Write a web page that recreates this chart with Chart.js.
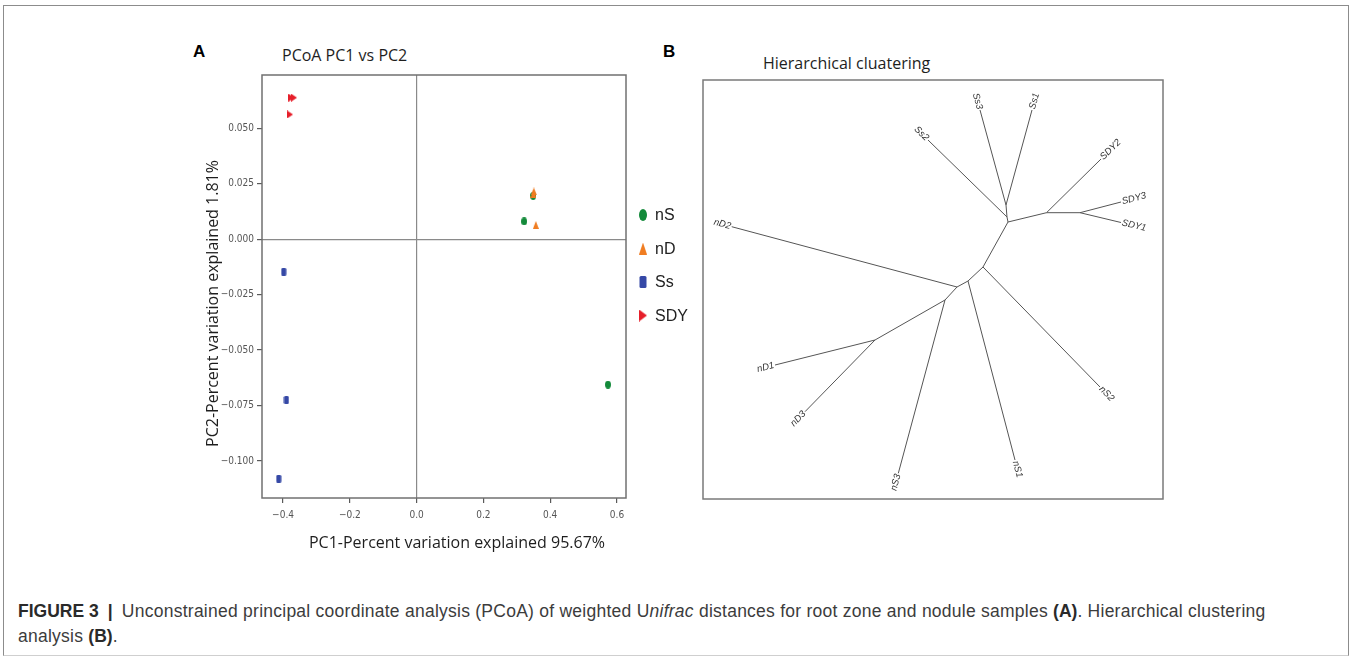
<!DOCTYPE html>
<html>
<head>
<meta charset="utf-8">
<title>Figure 3</title>
<script src="https://cdn.jsdelivr.net/npm/chart.js@4.4.1/dist/chart.umd.min.js"></script>
<style>
  html, body { margin: 0; padding: 0; background: #fff; }
  #page { position: relative; width: 1351px; height: 656px; overflow: hidden; }
  #frame { position: absolute; left: 3px; top: 5px; width: 1346px; height: 651px; box-sizing: border-box;
           border: 1px solid #8c8c8c; border-bottom-color: #cfcfcf; }
  .letter { position: absolute; font: bold 17px 'Liberation Sans', Arial, sans-serif; color: #000; line-height: 20px; }
  .ptitle { position: absolute; font: 16px 'Open Sans', sans-serif; color: #1e1e1e; line-height: 20px; white-space: nowrap; }
  #boxA { position: absolute; left: 180px; top: 60px; width: 540px; height: 510px; }
  #boxB { position: absolute; left: 690px; top: 70px; width: 480px; height: 440px; }
  #caption { position: absolute; left: 18px; top: 599px; width: 1320px; font: 17.5px 'Liberation Sans', Arial, sans-serif;
             letter-spacing: 0.25px; line-height: 25px; color: #3c3c3c; white-space: nowrap; }
  #caption b { color: #2a2a2a; letter-spacing: 0; }
  #caption .bar { margin: 0 4px; }
</style>
</head>
<body>
<div id="page">
  <div id="frame"></div>
  <div class="letter" style="left:193px; top:42px;">A</div>
  <div class="ptitle" style="left:282px; top:45px;">PCoA PC1 vs PC2</div>
  <div class="letter" style="left:663px; top:42px;">B</div>
  <div class="ptitle" style="left:763px; top:53px;">Hierarchical cluatering</div>
  <div id="boxA"><canvas id="pcoaChart"></canvas></div>
  <div id="boxB"><canvas id="treeChart"></canvas></div>
  <div id="caption"><b>FIGURE 3</b> <b class="bar">|</b> Unconstrained principal coordinate analysis (PCoA) of weighted U<i>nifrac</i> distances for root zone and nodule samples <b>(A)</b>. Hierarchical clustering<br>analysis <b>(B)</b>.</div>
</div>

<script>
// --- Panel A: PCoA scores, one pair of arrays per group ---
const groups = ['nS', 'nD', 'Ss', 'SDY'];
const nS_pc1 = [0.349, 0.322, 0.573];
const nS_pc2 = [0.0195, 0.0080, -0.0656];
const nD_pc1 = [0.351, 0.350, 0.357];
const nD_pc2 = [0.0215, 0.0205, 0.0064];
const Ss_pc1 = [-0.398, -0.390, -0.413];
const Ss_pc2 = [-0.0147, -0.0725, -0.1080];
const SDY_pc1 = [-0.375, -0.367, -0.379];
const SDY_pc2 = [0.0638, 0.0638, 0.0562];

const pc1Ticks = [-0.4, -0.2, 0.0, 0.2, 0.4, 0.6];
const pc2Ticks = [-0.100, -0.075, -0.050, -0.025, 0.000, 0.025, 0.050];

// --- Panel B: unrooted tree layout (node names, layout coordinates, edges) ---
const treeNodes = ['Ss3', 'Ss1', 'Ss2', 'SDY2', 'SDY3', 'SDY1', 'nS2', 'nS1', 'nD2', 'nS3', 'nD1', 'nD3',
                   'i1', 'i2', 'i3', 'i4', 'i5', 'i6', 'i7', 'i8', 'i9', 'i10'];
const treeX = [2.77, 3.29, 2.25, 3.98, 4.18, 4.18, 3.97, 3.12, 0.287, 1.953, 0.72, 1.02,
               3.03, 3.04, 3.05, 3.435, 3.77, 2.80, 2.65, 2.54, 2.42, 1.72];
const treeY = [3.89, 3.89, 3.59, 3.40, 2.97, 2.765, 1.12, 0.39, 2.723, 0.257, 1.34, 0.873,
               2.94, 2.82, 2.77, 2.863, 2.863, 2.32, 2.18, 2.12, 1.99, 1.59];
const treeEdges = [
  ['i1', 'Ss3'], ['i1', 'Ss1'], ['i2', 'i1'], ['i2', 'Ss2'], ['i3', 'i2'],
  ['i3', 'i4'], ['i4', 'SDY2'], ['i4', 'i5'], ['i5', 'SDY3'], ['i5', 'SDY1'],
  ['i3', 'i6'], ['i6', 'nS2'], ['i6', 'i7'], ['i7', 'nS1'], ['i7', 'i8'],
  ['i8', 'nD2'], ['i8', 'i9'], ['i9', 'nS3'], ['i9', 'i10'], ['i10', 'nD1'], ['i10', 'nD3']
];

const groupColors = { nS: '#138a3a', nD: '#f07d22', Ss: '#3548a6', SDY: '#e61f2a' };
const groupShapes = { nS: 'ellipse', nD: 'up', Ss: 'rect', SDY: 'right' };
const groupData = {
  nS: [nS_pc1, nS_pc2], nD: [nD_pc1, nD_pc2], Ss: [Ss_pc1, Ss_pc2], SDY: [SDY_pc1, SDY_pc2]
};

const tickFont = { family: "'Liberation Sans Narrow', 'DejaVu Sans Condensed', 'Liberation Sans', sans-serif", size: 10 };

// small marker images (the published symbols are taller than wide)
function makeMarker(shape, color, w, h) {
  const c = document.createElement('canvas');
  c.width = w; c.height = h;
  const g = c.getContext('2d');
  g.fillStyle = color;
  g.beginPath();
  if (shape === 'ellipse') {
    g.ellipse(w / 2, h / 2, w / 2, h / 2, 0, 0, Math.PI * 2);
  } else if (shape === 'up') {
    g.moveTo(w / 2, 0); g.lineTo(w, h); g.lineTo(0, h); g.closePath();
  } else if (shape === 'rect') {
    if (g.roundRect) g.roundRect(0.5, 0, w - 1, h, 1.5); else g.rect(0.5, 0, w - 1, h);
  } else {
    g.moveTo(0, 0); g.lineTo(w, h / 2); g.lineTo(0, h); g.closePath();
  }
  g.fill();
  return c;
}

function minusFmt(v, d) {
  const s = Math.abs(v).toFixed(d);
  return v < -1e-9 ? '\u2212' + s : s;
}

// =============================================
// Panel A: PCoA scatter
// =============================================
const pcoaDecor = {
  id: 'pcoaDecor',
  afterDatasetsDraw(chart) {
    const { ctx, chartArea: a } = chart;
    ctx.save();
    ctx.strokeStyle = '#707070';
    ctx.lineWidth = 1.5;
    ctx.strokeRect(a.left, a.top, a.right - a.left, a.bottom - a.top);

    // axis titles
    ctx.fillStyle = '#1e1e1e';
    ctx.font = "16px 'Open Sans', sans-serif";
    ctx.textAlign = 'center';
    ctx.textBaseline = 'middle';
    ctx.fillText('PC1-Percent variation explained 95.67%', (a.left + a.right) / 2 + 13, a.bottom + 45);
    ctx.save();
    ctx.translate(a.left - 49, (a.top + a.bottom) / 2 + 17);
    ctx.rotate(-Math.PI / 2);
    ctx.fillText('PC2-Percent variation explained 1.81%', 0, 0);
    ctx.restore();

    // legend
    ctx.font = "16px 'Liberation Sans', Arial, sans-serif";
    ctx.textAlign = 'left';
    groups.forEach((gname, i) => {
      const img = makeMarker(groupShapes[gname], groupColors[gname], 8, 12);
      const y = a.top + 140 + i * 33.5;
      ctx.drawImage(img, a.right + 17 - 4, y - 6);
      ctx.fillStyle = '#222';
      ctx.fillText(gname, a.right + 29, y + 1);
    });
    ctx.restore();
  }
};

new Chart(document.getElementById('pcoaChart'), {
  type: 'scatter',
  data: {
    datasets: groups.map(gname => ({
      label: gname,
      data: groupData[gname][0].map((x, k) => ({ x: x, y: groupData[gname][1][k] })),
      pointStyle: makeMarker(groupShapes[gname], groupColors[gname], 6, 8),
      pointRadius: 4,
      order: gname === 'nS' ? 1 : 0
    }))
  },
  options: {
    responsive: true,
    maintainAspectRatio: false,
    animation: false,
    layout: { padding: { top: 15, right: 94, left: 0, bottom: 0 } },
    plugins: { legend: { display: false }, tooltip: { enabled: false } },
    scales: {
      x: {
        type: 'linear',
        min: -0.463, max: 0.627,
        afterBuildTicks: s => { s.ticks = pc1Ticks.map(v => ({ value: v })); },
        afterFit: s => { s.height = 72; },
        border: { display: false },
        grid: {
          color: c => (c.tick && Math.abs(c.tick.value) < 1e-9 ? '#8a8a8a' : 'rgba(0,0,0,0)'),
          tickColor: '#5a5a5a', tickLength: 5, lineWidth: 1.2
        },
        ticks: { color: '#555', font: tickFont, padding: 6, maxRotation: 0,
                 callback: v => minusFmt(v, 1) }
      },
      y: {
        type: 'linear',
        min: -0.1167, max: 0.074,
        afterBuildTicks: s => { s.ticks = pc2Ticks.map(v => ({ value: v })); },
        afterFit: s => { s.width = 82; },
        border: { display: false },
        grid: {
          color: c => (c.tick && Math.abs(c.tick.value) < 1e-9 ? '#8a8a8a' : 'rgba(0,0,0,0)'),
          tickColor: '#5a5a5a', tickLength: 5, lineWidth: 1.2
        },
        ticks: { color: '#555', font: tickFont, padding: 3,
                 callback: v => minusFmt(v, 3) }
      }
    }
  },
  plugins: [pcoaDecor]
});

// =============================================
// Panel B: unrooted hierarchical clustering tree
// =============================================
const nodeIndex = name => treeNodes.indexOf(name);
const parents = new Set(treeEdges.map(e => e[0]));

const treeDecor = {
  id: 'treeDecor',
  afterDatasetsDraw(chart) {
    const { ctx, chartArea: a, scales } = chart;
    ctx.save();
    ctx.strokeStyle = '#7a7a7a';
    ctx.lineWidth = 1.5;
    ctx.strokeRect(a.left, a.top, a.right - a.left, a.bottom - a.top);

    ctx.fillStyle = '#333';
    ctx.font = "italic 9.5px 'Liberation Sans', Arial, sans-serif";
    ctx.textBaseline = 'middle';
    treeEdges.forEach(([p, c]) => {
      if (parents.has(c)) return;
      const px = scales.x.getPixelForValue(treeX[nodeIndex(p)]);
      const py = scales.y.getPixelForValue(treeY[nodeIndex(p)]);
      const tx = scales.x.getPixelForValue(treeX[nodeIndex(c)]);
      const ty = scales.y.getPixelForValue(treeY[nodeIndex(c)]);
      const ang = Math.atan2(ty - py, tx - px);
      ctx.save();
      ctx.translate(tx, ty);
      if (tx - px >= 0) {
        ctx.rotate(ang);
        ctx.textAlign = 'left';
        ctx.fillText(c, 1, 0);
      } else {
        ctx.rotate(ang + Math.PI);
        ctx.textAlign = 'right';
        ctx.fillText(c, -1, 0);
      }
      ctx.restore();
    });
    ctx.restore();
  }
};

new Chart(document.getElementById('treeChart'), {
  type: 'scatter',
  data: {
    datasets: treeEdges.map(([p, c]) => ({
      label: p + '-' + c,
      data: [
        { x: treeX[nodeIndex(p)], y: treeY[nodeIndex(p)] },
        { x: treeX[nodeIndex(c)], y: treeY[nodeIndex(c)] }
      ],
      showLine: true,
      borderColor: '#555',
      borderWidth: 1,
      pointRadius: 0
    }))
  },
  options: {
    responsive: true,
    maintainAspectRatio: false,
    animation: false,
    layout: { padding: { top: 10, right: 7, left: 13, bottom: 11 } },
    plugins: { legend: { display: false }, tooltip: { enabled: false } },
    scales: {
      x: { type: 'linear', min: 0, max: 4.6, display: false },
      y: { type: 'linear', min: 0, max: 4.19, display: false }
    }
  },
  plugins: [treeDecor]
});
</script>
</body>
</html>
